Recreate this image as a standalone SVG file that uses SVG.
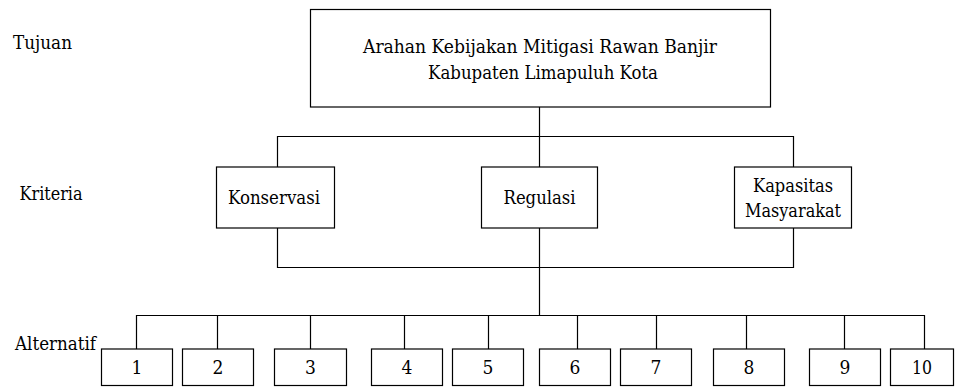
<svg xmlns="http://www.w3.org/2000/svg" width="955" height="387" viewBox="0 0 955 387">
<style>
  .box { fill: #fff; stroke: #000; stroke-width: 1.2; }
  .ln { fill: none; stroke: #000; stroke-width: 1.2; }
  .t { font-family: 'DejaVu Serif Condensed', 'DejaVu Serif', serif; font-size: 19px; fill: #000; }
  .c { text-anchor: middle; }
</style>
<rect width="955" height="387" fill="#fff"/>
<g id="connectors">
  <path class="ln" d="M539.5 107 V167"/>
  <path class="ln" d="M277.5 167 V136.5 H793.5 V167"/>
  <path class="ln" d="M277.5 228 V267.5 H793.5 V228"/>
  <path class="ln" d="M539.5 228 V315.5"/>
  <path class="ln" d="M136.5 349 V315.5 H924.5 V349"/>
  <path class="ln" d="M217.5 315.5 V349 M310.5 315.5 V349 M404.5 315.5 V349 M488.5 315.5 V349 M577.5 315.5 V349 M656.5 315.5 V349 M746.5 315.5 V349 M844.5 315.5 V349"/>
</g>
<g id="labels" class="t">
  <text x="13" y="48.5" textLength="59" lengthAdjust="spacingAndGlyphs">Tujuan</text>
  <text x="19.5" y="199.5" textLength="63" lengthAdjust="spacingAndGlyphs">Kriteria</text>
  <text x="15" y="350" textLength="81" lengthAdjust="spacingAndGlyphs">Alternatif</text>
</g>
<g id="goal" class="t">
  <rect class="box" x="310.5" y="9.5" width="460" height="97.5"/>
  <text class="c" x="540" y="53" textLength="354" lengthAdjust="spacingAndGlyphs">Arahan Kebijakan Mitigasi Rawan Banjir</text>
  <text class="c" x="543" y="78.5" textLength="230" lengthAdjust="spacingAndGlyphs">Kabupaten Limapuluh Kota</text>
</g>
<g id="konservasi" class="t">
  <rect class="box" x="216.5" y="167" width="118" height="61"/>
  <text class="c" x="274" y="203.5" textLength="92" lengthAdjust="spacingAndGlyphs">Konservasi</text>
</g>
<g id="regulasi" class="t">
  <rect class="box" x="481.5" y="167" width="116" height="61"/>
  <text class="c" x="539.5" y="203.5" textLength="72" lengthAdjust="spacingAndGlyphs">Regulasi</text>
</g>
<g id="kapasitas" class="t">
  <rect class="box" x="734.5" y="167" width="117" height="61"/>
  <text class="c" x="793" y="192" textLength="80" lengthAdjust="spacingAndGlyphs">Kapasitas</text>
  <text class="c" x="793" y="217" textLength="96" lengthAdjust="spacingAndGlyphs">Masyarakat</text>
</g>
<g id="alternatives" class="t">
<g id="alt1"><rect class="box" x="101.5" y="349" width="71" height="36.5"/><text class="c" x="137" y="373.5">1</text></g>
<g id="alt2"><rect class="box" x="182.5" y="349" width="71" height="36.5"/><text class="c" x="218" y="373.5">2</text></g>
<g id="alt3"><rect class="box" x="274.5" y="349" width="72" height="36.5"/><text class="c" x="310.5" y="373.5">3</text></g>
<g id="alt4"><rect class="box" x="371.5" y="349" width="71" height="36.5"/><text class="c" x="407" y="373.5">4</text></g>
<g id="alt5"><rect class="box" x="452.5" y="349" width="71" height="36.5"/><text class="c" x="488" y="373.5">5</text></g>
<g id="alt6"><rect class="box" x="539.5" y="349" width="71" height="36.5"/><text class="c" x="575" y="373.5">6</text></g>
<g id="alt7"><rect class="box" x="620.5" y="349" width="71" height="36.5"/><text class="c" x="656" y="373.5">7</text></g>
<g id="alt8"><rect class="box" x="713.5" y="349" width="71" height="36.5"/><text class="c" x="749" y="373.5">8</text></g>
<g id="alt9"><rect class="box" x="809.5" y="349" width="71" height="36.5"/><text class="c" x="845" y="373.5">9</text></g>
<g id="alt10"><rect class="box" x="890.5" y="349" width="63" height="36.5"/><text class="c" x="922" y="373.5" textLength="20" lengthAdjust="spacingAndGlyphs">10</text></g>
</g>
</svg>
